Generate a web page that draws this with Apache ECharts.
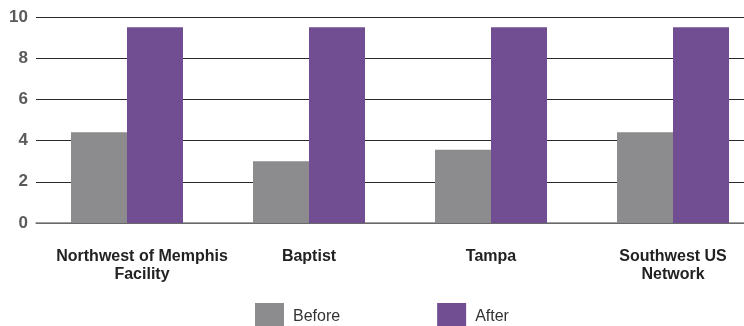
<!DOCTYPE html>
<html>
<head>
<meta charset="utf-8">
<script src="https://cdn.jsdelivr.net/npm/echarts@6/dist/echarts.min.js"></script>
<style>
  html, body { margin: 0; padding: 0; background: #fff; overflow: hidden; }
  #wrap { width: 744px; height: 326px; overflow: hidden; }
  #chart { width: 764px; height: 326px; }
</style>
</head>
<body>
<div id="wrap"><div id="chart"></div></div>
<script>
// data
var categories = ['Northwest of Memphis\nFacility', 'Baptist', 'Tampa', 'Southwest US\nNetwork'];
var beforeValues = [4.4, 3.0, 3.55, 4.4];
var afterValues = [9.5, 9.5, 9.5, 9.5];
var yTicks = [0, 2, 4, 6, 8, 10];

// chart is a bit wider than the page, the last category runs off the right edge
var chart = echarts.init(document.getElementById('chart'));

var option = {
    animation: false,
    legend: {
        bottom: -10,
        left: 250,
        itemWidth: 29,
        itemHeight: 28,
        itemGap: 97,
        icon: 'rect',
        textStyle: { fontFamily: 'Liberation Sans', fontSize: 16, color: '#333', padding: [0, 0, -6, 4] },
        data: ['Before', 'After']
    },
    grid: {
        left: 36,
        top: 17,
        right: 0,
        bottom: 103
    },
    xAxis: {
        type: 'category',
        data: categories.map(function (c, i) {
            return i === 0 ? { value: c, textStyle: { padding: [0, 0, 0, 30] } } : c;
        }),
        axisLine: { show: true, lineStyle: { color: '#808080', width: 1.5 } },
        axisTick: { show: false },
        axisLabel: {
            margin: 25,
            interval: 0,
            fontFamily: 'Liberation Sans',
            fontWeight: 'bold',
            fontSize: 16,
            lineHeight: 18,
            color: '#222'
        }
    },
    yAxis: {
        type: 'value',
        min: yTicks[0],
        max: yTicks[yTicks.length - 1],
        interval: 2,
        axisLine: { show: false },
        axisTick: { show: false },
        axisLabel: {
            margin: 8,
            fontFamily: 'Liberation Sans',
            fontWeight: 'bold',
            fontSize: 17,
            color: '#5a5a5a'
        },
        splitLine: { lineStyle: { color: '#2b2b2b', width: 1 } }
    },
    series: [{
        name: 'Before',
        type: 'bar',
        barWidth: 56,
        barGap: '0%',
        itemStyle: { color: '#8c8b8d' },
        data: beforeValues
    },
    {
        name: 'After',
        type: 'bar',
        barWidth: 56,
        itemStyle: { color: '#714e91' },
        data: afterValues
    }]
};

chart.setOption(option);
</script>
</body>
</html>
